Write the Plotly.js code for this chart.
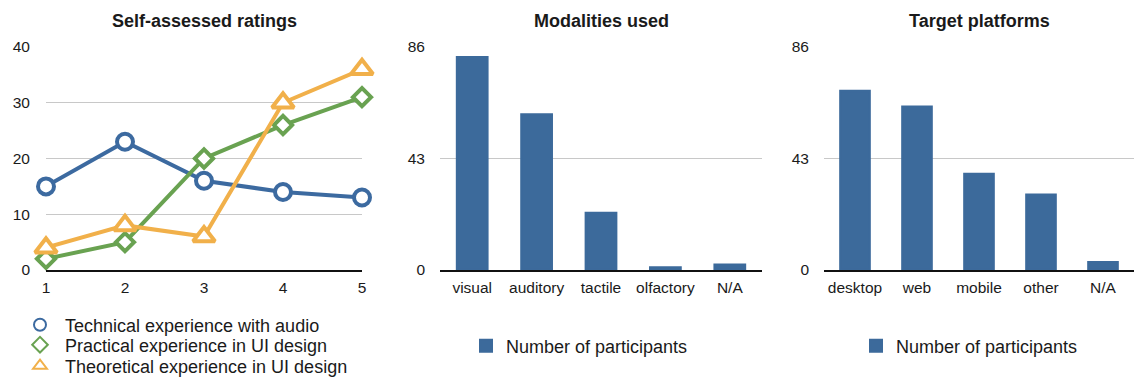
<!DOCTYPE html>
<html>
<head>
<meta charset="utf-8">
<script src="https://cdn.plot.ly/plotly-3.0.1.min.js"></script>
<style>
  html, body { margin: 0; padding: 0; background: #fff; }
  #chart { width: 1134px; height: 378px; }
</style>
</head>
<body>
<div id="chart"></div>
<script>
// Self-assessed ratings (rating level 1..5 -> number of respondents)
const ratingLevels = [1, 2, 3, 4, 5];
const technicalAudio = [15, 23, 16, 14, 13];
const practicalUI = [2, 5, 20, 26, 31];
const theoreticalUI = [4, 8, 6, 30, 36];

// Modalities used
const modalityLabels = ['visual', 'auditory', 'tactile', 'olfactory', 'N/A'];
const modalityCounts = [82, 60, 22, 1, 2];

// Target platforms
const platformLabels = ['desktop', 'web', 'mobile', 'other', 'N/A'];
const platformCounts = [69, 63, 37, 29, 3];

const W = 1134, H = 378;
const px = v => v / W;             // horizontal pixel -> fraction
const py = v => (H - v) / H;       // vertical pixel (from top) -> fraction

const FONT = 'Liberation Sans, Arial, Helvetica, sans-serif';
const TEXT = '#1a1a1a';
const BLUE_LINE = '#3c6aa0';
const GREEN = '#69a251';
const ORANGE = '#f1b04a';
const BAR = '#3c6a9b';
const GRID = '#c8c8c8';

// Each rating series is drawn as a line plus a marker layer; only the
// marker layer is listed in the legend, each in its own legend box.
function ratingSeries(name, y, color, symbol, size, legendId) {
  return [
    {
      type: 'scatter', mode: 'lines', name: name, x: ratingLevels, y: y,
      xaxis: 'x', yaxis: 'y', line: { color: color, width: 4 },
      showlegend: false, cliponaxis: false, hoverinfo: 'skip'
    },
    {
      type: 'scatter', mode: 'markers', name: name, x: ratingLevels, y: y,
      xaxis: 'x', yaxis: 'y',
      marker: { symbol: symbol, size: size, color: '#ffffff', line: { color: color, width: 4 } },
      cliponaxis: false, legend: legendId
    }
  ];
}

const traces = [].concat(
  ratingSeries('Technical experience with audio', technicalAudio, BLUE_LINE, 'circle', 16, 'legend'),
  ratingSeries('Practical experience in UI design', practicalUI, GREEN, 'diamond', 14, 'legend4'),
  ratingSeries('Theoretical experience in UI design', theoreticalUI, ORANGE, 'triangle-up', 19, 'legend5'),
  [
    {
      type: 'bar', name: 'Number of participants', x: modalityLabels, y: modalityCounts,
      xaxis: 'x2', yaxis: 'y2', marker: { color: BAR, line: { color: BAR, width: 2.5 } }, legend: 'legend2'
    },
    {
      type: 'bar', name: 'Number of participants', x: platformLabels, y: platformCounts,
      xaxis: 'x3', yaxis: 'y3', marker: { color: BAR, line: { color: BAR, width: 2.5 } }, legend: 'legend3'
    }
  ]
);

const yDomain = [py(270), py(47)];
const tickFont = { family: FONT, size: 15.5, color: TEXT };

function catX(domain, anchor) {
  return {
    domain: domain, anchor: anchor, type: 'category', showgrid: false, zeroline: false,
    showline: true, linecolor: '#111', linewidth: 1.5, ticks: '',
    tickfont: tickFont, ticklabelstandoff: 3, fixedrange: true
  };
}
function countY(anchor) {
  return {
    domain: yDomain, anchor: anchor, range: [0, 86], tickvals: [0, 43, 86],
    showgrid: true, gridcolor: GRID, gridwidth: 1, zeroline: false, showline: false,
    ticks: '', tickfont: tickFont, ticklabelstandoff: 14, fixedrange: true
  };
}

const legendFont = { family: FONT, size: 18, color: TEXT };
function legendAt(xPix, yPix, itemwidth) {
  return {
    xref: 'container', yref: 'container',
    x: px(xPix), y: py(yPix), xanchor: 'left', yanchor: 'middle',
    font: legendFont, bgcolor: 'rgba(0,0,0,0)', itemwidth: itemwidth,
    itemsizing: 'constant', itemclick: false, itemdoubleclick: false
  };
}

const titleFont = { family: FONT, size: 18, color: TEXT };
function panelTitle(text, xPix) {
  return {
    text: '<b>' + text + '</b>', x: px(xPix), y: py(21), xref: 'paper', yref: 'paper',
    showarrow: false, xanchor: 'center', yanchor: 'middle', font: titleFont
  };
}

const layout = {
  width: W, height: H,
  margin: { l: 0, r: 0, t: 0, b: 0, autoexpand: false },
  paper_bgcolor: '#fff', plot_bgcolor: '#fff',
  font: { family: FONT, color: TEXT },
  bargap: 0.53,
  xaxis: {
    domain: [px(46), px(362)], anchor: 'y', range: [1, 5], tickvals: ratingLevels,
    showgrid: false, zeroline: false, showline: true, linecolor: '#111', linewidth: 1.5,
    ticks: '', tickfont: tickFont, ticklabelstandoff: 3, fixedrange: true
  },
  yaxis: {
    domain: yDomain, anchor: 'x', range: [0, 40], dtick: 10,
    showgrid: true, gridcolor: GRID, gridwidth: 1, zeroline: false, showline: false,
    ticks: '', tickfont: tickFont, ticklabelstandoff: 15, fixedrange: true
  },
  xaxis2: catX([px(440), px(762)], 'y2'),
  yaxis2: countY('x2'),
  xaxis3: catX([px(824), px(1134)], 'y3'),
  yaxis3: countY('x3'),
  legend: legendAt(15, 325, 40),
  legend4: legendAt(15, 345, 40),
  legend5: legendAt(15, 366, 40),
  legend2: legendAt(466, 346, 30),
  legend3: legendAt(856, 346, 30),
  annotations: [
    panelTitle('Self-assessed ratings', 204),
    panelTitle('Modalities used', 601),
    panelTitle('Target platforms', 979)
  ]
};

Plotly.newPlot('chart', traces, layout, { displayModeBar: false, staticPlot: true });
</script>
</body>
</html>
